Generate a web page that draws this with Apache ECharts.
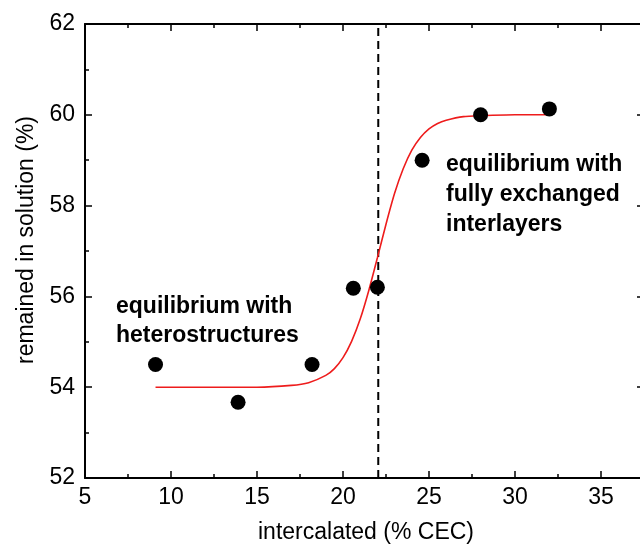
<!DOCTYPE html>
<html><head><meta charset="utf-8">
<script src="https://cdn.jsdelivr.net/npm/echarts@6/dist/echarts.min.js"></script>
<style>html,body{margin:0;padding:0;background:#fff}#c{width:640px;height:546px}</style>
</head><body><div id="c"></div>
<script>
// measured points
const pointX = [9.1, 13.9, 18.2, 20.6, 22.0, 24.6, 28.0, 32.0];
const pointY = [54.5, 53.67, 54.5, 56.18, 56.2, 59.0, 60.0, 60.13];
// red fitted curve
const fitX = [9.1, 12, 15, 17, 18, 19, 19.5, 20, 20.5, 21, 21.5, 22, 22.5, 23, 23.5, 24, 24.5, 25, 25.5, 26, 27, 28, 30, 32];
const fitY = [54.0, 54.0, 54.0, 54.04, 54.1, 54.26, 54.41, 54.65, 55.01, 55.5, 56.13, 56.85, 57.59, 58.27, 58.81, 59.22, 59.5, 59.69, 59.81, 59.88, 59.96, 59.98, 60.0, 60.0];
// dashed divider
const dividerX = [22.05, 22.05];
const dividerY = [52, 62];
const xTickRange = [5, 40, 5];
const yTickRange = [52, 62, 2];
const xTitle = 'intercalated (% CEC)';
const yTitle = 'remained in solution (%)';
const noteLeft = ['equilibrium with', 'heterostructures'];
const noteRight = ['equilibrium with', 'fully exchanged', 'interlayers'];

const FONT = '"Liberation Sans", Arial, sans-serif';
const chart = echarts.init(document.getElementById('c'), null, {renderer: 'canvas'});

function axisBase(extra) {
  return Object.assign({
    type: 'value',
    splitLine: {show: false},
    axisLine: {show: true, onZero: false, lineStyle: {color: '#000', width: 2}},
    axisTick: {show: true, inside: true, length: 7, lineStyle: {color: '#000', width: 1.5}},
    minorTick: {show: true, splitNumber: 2, length: 4, lineStyle: {color: '#000', width: 1.5}},
    axisLabel: {show: false},
  }, extra);
}

const labelStyle = {show: true, color: '#000', fontSize: 23, fontFamily: FONT};

chart.setOption({
  animation: false,
  backgroundColor: '#fff',
  grid: {left: 85, top: 24, width: 602, height: 454, containLabel: false, outerBoundsMode: 'none'},
  xAxis: [
    axisBase({position: 'bottom', min: xTickRange[0], max: xTickRange[1], interval: xTickRange[2],
      axisLabel: Object.assign({}, labelStyle, {margin: 8}),
      name: xTitle, nameLocation: 'middle', nameGap: 43,
      nameTextStyle: {color: '#000', fontSize: 23, fontFamily: FONT, padding: [0, 40, 0, 0]}}),
    axisBase({position: 'top', min: xTickRange[0], max: xTickRange[1], interval: xTickRange[2]})
  ],
  yAxis: [
    axisBase({position: 'left', min: yTickRange[0], max: yTickRange[1], interval: yTickRange[2],
      axisLabel: Object.assign({}, labelStyle, {margin: 10}),
      name: yTitle, nameLocation: 'middle', nameGap: 44, nameRotate: 90,
      nameTextStyle: {color: '#000', fontSize: 23, fontFamily: FONT, padding: [0, 0, 0, 22]}}),
    axisBase({position: 'right', offset: -43, min: yTickRange[0], max: yTickRange[1], interval: yTickRange[2]})
  ],
  series: [
    {
      type: 'line', xAxisIndex: 0, yAxisIndex: 0,
      data: dividerX.map((x, i) => [x, dividerY[i]]),
      symbol: 'none', silent: true,
      lineStyle: {color: '#000', width: 2, type: [8, 5]}, z: 1
    },
    {
      type: 'line', xAxisIndex: 0, yAxisIndex: 0,
      data: fitX.map((x, i) => [x, fitY[i]]),
      symbol: 'none', smooth: 0.2,
      lineStyle: {color: '#ee1c1c', width: 1.6}, z: 2
    },
    {
      type: 'scatter', xAxisIndex: 0, yAxisIndex: 0,
      data: pointX.map((x, i) => [x, pointY[i]]),
      symbol: 'circle', symbolSize: 15,
      itemStyle: {color: '#000', opacity: 1}, z: 3
    }
  ],
  graphic: [
    {type: 'text', left: 116, top: 292, z: 10,
      style: {text: noteLeft.join('\n'), fill: '#000', font: 'bold 23px ' + FONT, lineHeight: 29}},
    {type: 'text', left: 446, top: 150, z: 10,
      style: {text: noteRight.join('\n'), fill: '#000', font: 'bold 23px ' + FONT, lineHeight: 30}}
  ]
});
</script></body></html>
